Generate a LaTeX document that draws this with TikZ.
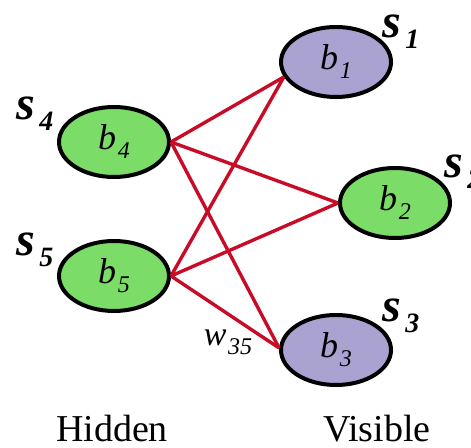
\documentclass[tikz,border=0pt]{standalone}
\usepackage{fontspec}
\setmainfont{Liberation Serif}
\usetikzlibrary{shapes.geometric,positioning}

\definecolor{hidgreen}{RGB}{124,220,104}
\definecolor{vislilac}{RGB}{170,163,210}
\definecolor{wred}{RGB}{200,12,40}

% italic letter with a lowered subscript
\newcommand{\unitlbl}[2]{\textit{#1}\kern0.8pt\raisebox{-4.5pt}{\fontsize{12}{12}\selectfont\textit{#2}}}
\newcommand{\statelbl}[2]{\textbf{\textit{#1}}\kern2pt\raisebox{-5.5pt}{\fontsize{14}{14}\selectfont\textbf{\textit{#2}}}}

\begin{document}
\begin{tikzpicture}[
  x=0.5pt,y=-0.5pt,
  unit/.style={draw,ellipse,line width=2pt,minimum width=55pt,minimum height=35pt,inner sep=0pt,font=\fontsize{18}{20}\selectfont},
  hid/.style={unit,fill=hidgreen},
  vis/.style={unit,fill=vislilac},
  slbl/.style={font=\fontsize{24}{26}\selectfont,inner sep=0pt},
  layer/.style={font=\fontsize{19}{22}\selectfont,inner sep=0pt},
  wt/.style={wred,line width=1.7pt},
]
\useasboundingbox (0,0) rectangle (471,448);

% visible units (right column)
\node[vis] (b1) at (336,62)  {\unitlbl{b}{1}};
\node[hid] (b2) at (395,203) {\unitlbl{b}{2}};
\node[vis] (b3) at (336,350) {\unitlbl{b}{3}};

% hidden units (left column)
\node[hid] (b4) at (114,142) {\unitlbl{b}{4}};
\node[hid] (b5) at (114,276) {\unitlbl{b}{5}};

% states
\node[slbl] (s1) at (401,32)  {\statelbl{s}{1}};
\node[slbl] (s2) at (463,172) {\statelbl{s}{2}};
\node[slbl] (s3) at (401,316) {\statelbl{s}{3}};
\node[slbl] (s4) at (35,114)  {\statelbl{s}{4}};
\node[slbl] (s5) at (35,250)  {\statelbl{s}{5}};

% weights
\foreach \h in {b4,b5} {
  \draw[wt] (\h.east) -- (b1.196);
  \draw[wt] (\h.east) -- (b2.west);
  \draw[wt] (\h.east) -- (b3.178);
}
\node[font=\fontsize{17}{18}\selectfont,inner sep=0pt] (w35) at (228,342) {\unitlbl{w}{35}};

\node[layer] (hidden)  at (112,429) {Hidden};
\node[layer] (visible) at (377,429) {Visible};
\end{tikzpicture}
\end{document}
